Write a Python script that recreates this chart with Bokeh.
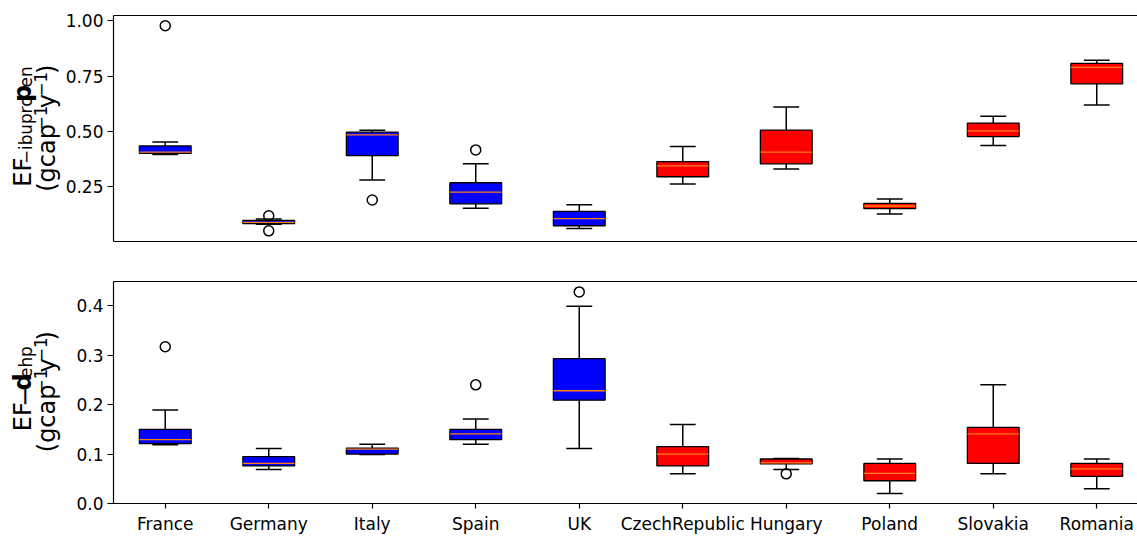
import numpy as np
from bokeh.plotting import figure
from bokeh.models import Range1d, FixedTicker, LinearAxis, ColumnDataSource, NumeralTickFormatter
from bokeh.core.properties import value
from bokeh.layouts import column, row
from bokeh.embed import file_html
from bokeh.resources import INLINE

# ---------------- data ----------------
countries = ["France", "Germany", "Italy", "Spain", "UK",
             "CzechRepublic", "Hungary", "Poland", "Slovakia", "Romania"]
box_colors = ["#0000ff"] * 5 + ["#ff0000"] * 5

# EF ibuprofen (top panel)
ibu_lo  = [0.396, 0.082, 0.281, 0.154, 0.063, 0.263, 0.331, 0.128, 0.437, 0.620]
ibu_q1  = [0.402, 0.085, 0.391, 0.174, 0.075, 0.296, 0.354, 0.152, 0.477, 0.715]
ibu_med = [0.407, 0.090, 0.485, 0.227, 0.107, 0.345, 0.407, 0.164, 0.503, 0.789]
ibu_q3  = [0.435, 0.099, 0.497, 0.269, 0.140, 0.364, 0.506, 0.176, 0.538, 0.807]
ibu_hi  = [0.453, 0.106, 0.506, 0.354, 0.170, 0.432, 0.611, 0.196, 0.569, 0.821]
ibu_out = [[0.977], [0.120, 0.052], [0.191], [0.417], [], [], [], [], [], []]

# EF dehp (bottom panel)
dehp_lo  = [0.119, 0.069, 0.099, 0.120, 0.111, 0.060, 0.069, 0.020, 0.060, 0.030]
dehp_q1  = [0.121, 0.076, 0.100, 0.129, 0.209, 0.076, 0.080, 0.046, 0.081, 0.055]
dehp_med = [0.129, 0.081, 0.110, 0.141, 0.228, 0.100, 0.082, 0.061, 0.141, 0.070]
dehp_q3  = [0.150, 0.095, 0.112, 0.150, 0.293, 0.115, 0.090, 0.081, 0.154, 0.081]
dehp_hi  = [0.189, 0.111, 0.120, 0.171, 0.399, 0.160, 0.091, 0.090, 0.240, 0.090]
dehp_out = [[0.317], [], [], [0.240], [0.428], [], [0.060], [], [], []]

top_ticks = [0.25, 0.50, 0.75, 1.00]
bot_ticks = [0.0, 0.1, 0.2, 0.3, 0.4]

# ---------------- layout constants ----------------
W_TOTAL = 1137
LAB_W = 62
FRAME_LEFT = 113
MAIN_W = W_TOTAL - LAB_W
FRAME_W = W_TOTAL - FRAME_LEFT
FRAME_H = 226
PX_PER_CAT = 103.5
FONT = "DejaVu Sans"
TICK_FS = "17px"
LABEL_F = 24.0

xr_start = 0.5
xr_end = xr_start + FRAME_W / PX_PER_CAT

# DejaVu Sans advance widths (em)
CW = {'E': 0.632, 'F': 0.575, '(': 0.390, ')': 0.390, '−': 0.838, 'i': 0.278,
      'b': 0.635, 'u': 0.634, 'p': 0.635, 'r': 0.411, 'o': 0.612, 'e': 0.615,
      'n': 0.634, 'g': 0.635, 'c': 0.550, 'a': 0.613, 'y': 0.592, '1': 0.636,
      'd': 0.635, 'h': 0.634}
BOLD_FACTOR = 1.13
MID = 0.33  # baseline -> middle of the em box, in em


def make_fig(height, top, bottom, y0, y1, ticks, fmt, show_xlabels):
    p = figure(width=MAIN_W, height=height, output_backend="svg", toolbar_location=None,
               x_range=Range1d(xr_start, xr_end), y_range=Range1d(y0, y1),
               min_border=0,
               min_border_left=FRAME_LEFT - LAB_W, min_border_right=0,
               min_border_top=top, min_border_bottom=bottom,
               background_fill_color="white", border_fill_color="white")
    p.outline_line_color = None
    p.xgrid.visible = False
    p.ygrid.visible = False
    for ax in (p.xaxis[0], p.yaxis[0]):
        ax.axis_line_color = "black"
        ax.axis_line_width = 1.2
        ax.major_tick_line_color = "black"
        ax.major_tick_line_width = 1.2
        ax.major_tick_in = 0
        ax.minor_tick_line_color = None
        ax.major_label_text_font = FONT
        ax.major_label_text_font_size = TICK_FS
        ax.major_label_text_color = "black"
    p.yaxis[0].ticker = FixedTicker(ticks=ticks)
    p.yaxis[0].formatter = NumeralTickFormatter(format=fmt)
    p.yaxis[0].major_tick_out = 6
    p.yaxis[0].major_label_standoff = 4
    if show_xlabels:
        p.xaxis[0].ticker = FixedTicker(ticks=list(range(1, len(countries) + 1)))
        p.xaxis[0].major_label_overrides = {i + 1: c for i, c in enumerate(countries)}
        p.xaxis[0].major_tick_out = 5
        p.xaxis[0].major_label_standoff = 5
    else:
        p.xaxis[0].ticker = FixedTicker(ticks=[])
        p.xaxis[0].major_label_standoff = 0
    top_ax = LinearAxis(ticker=FixedTicker(ticks=[]),
                        axis_line_color="black", axis_line_width=1.2,
                        major_tick_line_color=None, minor_tick_line_color=None,
                        major_label_standoff=0)
    p.add_layout(top_ax, "above")
    return p


def draw_boxes(p, lo, q1, med, q3, hi, outliers):
    xs = np.arange(1, len(countries) + 1, dtype=float)
    src = ColumnDataSource(dict(
        x=xs, lo=lo, q1=q1, med=med, q3=q3, hi=hi, color=box_colors,
        cl=xs - 0.125, cr=xs + 0.125, ml=xs - 0.25, mr=xs + 0.25))
    p.segment(x0="x", y0="q3", x1="x", y1="hi", line_color="black", line_width=1.5, source=src)
    p.segment(x0="x", y0="q1", x1="x", y1="lo", line_color="black", line_width=1.5, source=src)
    p.segment(x0="cl", y0="hi", x1="cr", y1="hi", line_color="black", line_width=1.5, source=src)
    p.segment(x0="cl", y0="lo", x1="cr", y1="lo", line_color="black", line_width=1.5, source=src)
    p.vbar(x="x", width=0.5, bottom="q1", top="q3", fill_color="color",
           line_color="black", line_width=1.3, source=src)
    p.segment(x0="ml", y0="med", x1="mr", y1="med", line_color="#ff7f0e", line_width=1.3, source=src)
    ox, oy = [], []
    for i, vals in enumerate(outliers):
        for v in vals:
            ox.append(xs[i])
            oy.append(v)
    p.scatter(ox, oy, marker="circle", size=10, fill_color=None,
              line_color="black", line_width=1.5)


def label_fig(height, lines, cy):
    """Narrow figure holding the rotated rich-text y-axis label (pixel coordinates)."""
    q = figure(width=LAB_W, height=height, output_backend="svg", toolbar_location=None,
               x_range=Range1d(0, LAB_W), y_range=Range1d(0, height),
               min_border=0, min_border_left=0, min_border_right=0,
               min_border_top=0, min_border_bottom=0,
               x_axis_location=None, y_axis_location=None,
               background_fill_color="white", border_fill_color="white")
    q.outline_line_color = None
    q.xgrid.visible = False
    q.ygrid.visible = False
    f = LABEL_F
    for base_x, pieces in lines:
        widths = []
        for t, size, shift, bold in pieces:
            w = sum(CW[c] for c in t) * size * f
            if bold:
                w *= BOLD_FACTOR
            widths.append(w)
        total = sum(widths)
        py = cy + total / 2.0          # screen px (top-down) where the line starts
        for (t, size, shift, bold), w in zip(pieces, widths):
            baseline = base_x - shift * f
            mx = baseline - MID * size * f
            my = py - w / 2.0
            q.text(x=[mx], y=[height - my], text=[t], angle=np.pi / 2,
                   text_align="center", text_baseline="middle",
                   text_font=value(FONT), text_font_size=value(f"{size * f:.1f}px"),
                   text_font_style=value("bold" if bold else "normal"),
                   text_color="black")
            py -= w
    return q


SUB = -0.06
SUP = 0.36
unit_line = [("(gcap", 1.0, 0.0, False), ("−1", 0.7, SUP, False), ("y", 1.0, 0.0, False),
             ("−1", 0.7, SUP, False), (")", 1.0, 0.0, False)]

# ---------------- top panel ----------------
TOP_H = 261
TOP_Y0, TOP_Y1 = 0.004, 1.023
p1 = make_fig(TOP_H, 15, 20, TOP_Y0, TOP_Y1, top_ticks, "0.00", False)
draw_boxes(p1, ibu_lo, ibu_q1, ibu_med, ibu_q3, ibu_hi, ibu_out)
l1 = label_fig(TOP_H, [
    (30, [("EF", 1.0, 0.0, False), ("−ibupro", 0.7, SUB, False),
          ("p", 1.0, 0.0, True), ("en", 0.7, SUB, False)]),
    (54, unit_line),
], 15 + FRAME_H / 2.0)

# ---------------- bottom panel ----------------
BOT_H = 275
BOT_Y0, BOT_Y1 = 0.0, 0.449
p2 = make_fig(BOT_H, 20, 29, BOT_Y0, BOT_Y1, bot_ticks, "0.0", True)
draw_boxes(p2, dehp_lo, dehp_q1, dehp_med, dehp_q3, dehp_hi, dehp_out)
l2 = label_fig(BOT_H, [
    (30, [("EF", 1.0, 0.0, False), ("−", 1.0, -0.04, False),
          ("d", 1.0, 0.0, True), ("ehp", 0.7, SUB, False)]),
    (54, unit_line),
], 20 + FRAME_H / 2.0)

layout = column(row(l1, p1, spacing=0), row(l2, p2, spacing=0), spacing=0)
open("out.html", "w").write(file_html(layout, INLINE))
